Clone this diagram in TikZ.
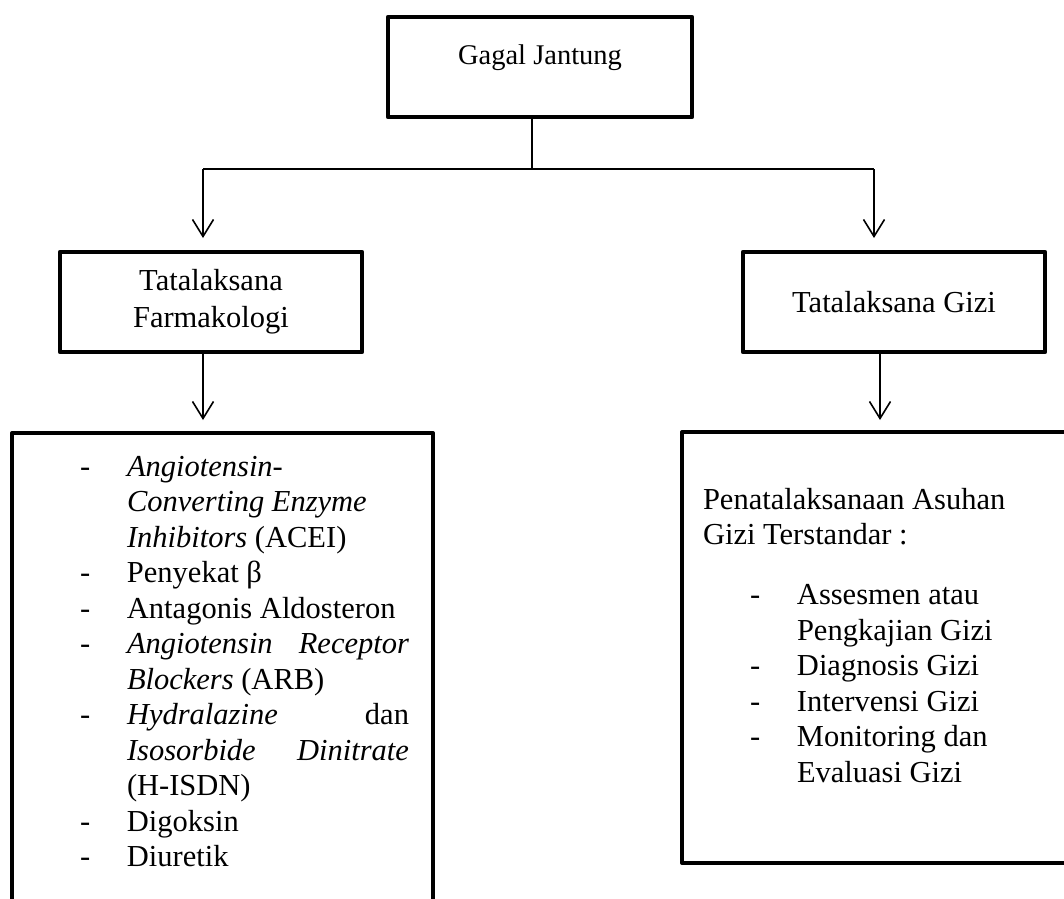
\documentclass[tikz,border=0pt]{standalone}
\usepackage{fontspec}
\setmainfont{Liberation Serif}
\usetikzlibrary{arrows.meta,calc}
\newcommand\Lline[2]{\hbox to 329pt{\hbox to 47pt{#1\hss}\hbox to 282pt{#2\hfil}}}
\newcommand\Rline[2]{\hbox{\hskip47pt\hbox to 47pt{#1\hss}#2}}
\begin{document}
\begin{tikzpicture}[x=1pt,y=-1pt,
  box/.style={draw=black, line width=4.5pt, line join=round, rectangle, outer sep=0pt, inner sep=0pt, align=center, font=\fontsize{30.5}{37}\selectfont},
  conn/.style={draw=black, line width=1.6pt},
  arr/.style={conn, -{Straight Barb[length=17pt,width=21pt]}},
  txt/.style={inner sep=0pt, outer sep=0pt, font=\fontsize{30.5}{35.5}\selectfont}]
\useasboundingbox (0,0) rectangle (1064,898);
\clip (0,0) rectangle (1064,898);
\fill[white] (0,0) rectangle (1064,898);

% boxes
\node[box, minimum width=304pt, minimum height=100pt, font=\fontsize{28.5}{34}\selectfont, text height=19.5pt, text depth=24pt] (gj) at (540,67) {Gagal Jantung};
\node[box, minimum width=302pt, minimum height=100pt] (farm) at (211,302) {Tatalaksana\\Farmakologi};
\node[box, minimum width=302pt, minimum height=100pt] (gizi) at (894,302) {Tatalaksana Gizi};
\node[box, line width=4pt, anchor=north west, minimum width=421pt, minimum height=520pt] (lbox) at (12,433) {};
\node[box, line width=4pt, anchor=north west, minimum width=450pt, minimum height=431pt] (rbox) at (682,432) {};

% texts of the lower boxes
\node[txt, anchor=base west] (llist) at (80,476) {\vtop{\lineskiplimit=-100pt
  \Lline{-}{\textit{Angiotensin-}}
  \Lline{}{\textit{Converting Enzyme}}
  \Lline{}{\textit{Inhibitors} (ACEI)}
  \Lline{-}{Penyekat β}
  \Lline{-}{Antagonis Aldosteron}
  \Lline{-}{\textit{Angiotensin}\hfill\textit{Receptor}}
  \Lline{}{\textit{Blockers} (ARB)}
  \Lline{-}{\textit{Hydralazine}\hfill dan}
  \Lline{}{\textit{Isosorbide}\hfill\textit{Dinitrate}}
  \Lline{}{(H-ISDN)}
  \Lline{-}{Digoksin}
  \Lline{-}{Diuretik}}};

\node[txt, anchor=base west] (rlist) at (703,509) {\vtop{\lineskiplimit=-100pt
  \hbox{Penatalaksanaan Asuhan}
  \hbox{Gizi Terstandar :}
  \vskip24.5pt
  \Rline{-}{Assesmen atau}
  \Rline{}{Pengkajian Gizi}
  \Rline{-}{Diagnosis Gizi}
  \Rline{-}{Intervensi Gizi}
  \Rline{-}{Monitoring dan}
  \Rline{}{Evaluasi Gizi}}};

% connectors
\coordinate (split) at (532,169);
\coordinate (brL) at (203,169);
\coordinate (brR) at (874,169);
\coordinate (colL) at (203,0);
\coordinate (colR) at (880,0);
\draw[conn] (gj.south -| split) -- (split);
\draw[conn] (brL) -- (brR);
\draw[arr] (brL) -- ($(farm.north -| brL)+(0,-14)$);
\draw[arr] (brR) -- ($(gizi.north -| brR)+(0,-14)$);
\draw[arr] (farm.south -| colL) -- ($(lbox.north -| colL)+(0,-13)$);
\draw[arr] (gizi.south -| colR) -- ($(rbox.north -| colR)+(0,-12)$);
\end{tikzpicture}
\end{document}
